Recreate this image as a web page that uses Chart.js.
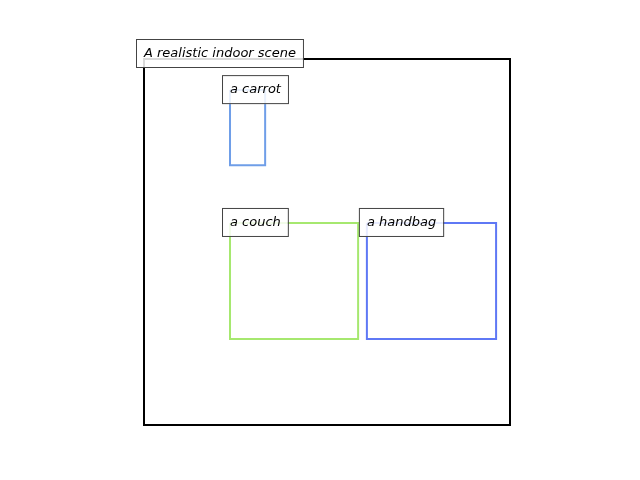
<!DOCTYPE html>
<html>
<head>
<script src="https://cdn.jsdelivr.net/npm/chart.js@4"></script>
<style>body{margin:0;background:#fff}</style>
</head>
<body>
<canvas id="c" width="640" height="480" style="width:640px;height:480px"></canvas>
<script>
const sceneTitle = 'A realistic indoor scene';
const labels = ['a carrot', 'a couch', 'a handbag'];
const x0 = [0.235, 0.235, 0.609];
const x1 = [0.331, 0.585, 0.962];
const y0 = [0.085, 0.448, 0.448];
const y1 = [0.290, 0.765, 0.765];
const colors = ['#6f9ee8', '#a6e86f', '#5f78f5'];

const datasets = labels.map((l, i) => ({
  label: l,
  data: [{x:x0[i],y:y0[i]},{x:x1[i],y:y0[i]},{x:x1[i],y:y1[i]},{x:x0[i],y:y1[i]},{x:x0[i],y:y0[i]}],
  showLine: true, borderColor: colors[i], borderWidth: 2, pointRadius: 0, fill: false
}));

function tag(ctx, text, x, y){
  ctx.font = 'italic 13px "DejaVu Sans"';
  const w = ctx.measureText(text).width;
  ctx.fillStyle = 'rgba(255,255,255,0.85)';
  ctx.fillRect(x - 7, y - 14, w + 14, 28);
  ctx.strokeStyle = '#444'; ctx.lineWidth = 1;
  ctx.strokeRect(x - 7.5, y - 14.5, w + 15, 28);
  ctx.fillStyle = '#000'; ctx.textBaseline = 'middle';
  ctx.fillText(text, x, y);
}

const overlay = {
  id: 'overlay',
  afterDatasetsDraw(chart){
    const {ctx, chartArea: a, scales} = chart;
    ctx.save();
    ctx.strokeStyle = '#000'; ctx.lineWidth = 2;
    ctx.strokeRect(a.left, a.top, a.right - a.left, a.bottom - a.top);
    labels.forEach((l, i) => tag(ctx, l, scales.x.getPixelForValue(x0[i]), scales.y.getPixelForValue(y0[i])));
    tag(ctx, sceneTitle, a.left, a.top - 5);
    ctx.restore();
  }
};

new Chart(document.getElementById('c'), {
  type: 'scatter',
  data: { datasets },
  options: {
    responsive: false, animation: false,
    layout: { padding: { left: 144, right: 130, top: 59, bottom: 55 } },
    plugins: { legend: { display: false }, tooltip: { enabled: false } },
    scales: {
      x: { display: false, min: 0, max: 1 },
      y: { display: false, min: 0, max: 1, reverse: true }
    }
  },
  plugins: [overlay]
});
</script>
</body>
</html>
